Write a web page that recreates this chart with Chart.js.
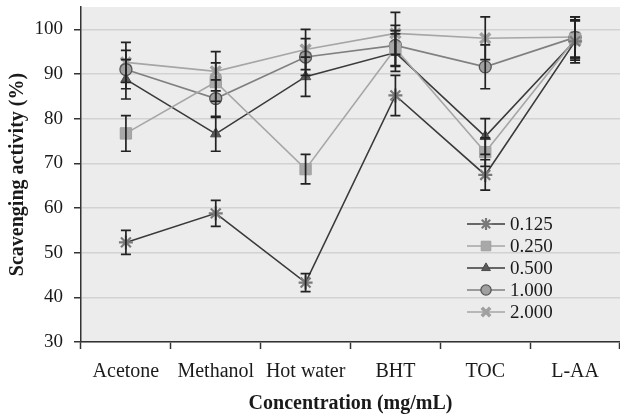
<!DOCTYPE html>
<html>
<head>
<meta charset="utf-8">
<script src="https://cdn.jsdelivr.net/npm/chart.js@4.4.1/dist/chart.umd.min.js"></script>
<style>
  html, body { margin: 0; padding: 0; background: #fff; overflow: hidden; }
  #wrap { width: 620px; height: 419px; position: relative; }
</style>
</head>
<body>
<div id="wrap"><canvas id="chart"></canvas></div>
<script>
// categories and series
const extracts = ["Acetone", "Methanol", "Hot water", "BHT", "TOC", "L-AA"]
const yTicks = [30, 40, 50, 60, 70, 80, 90, 100]

const conc0125 = [52.3, 58.8, 43.3, 85.2, 67.4, 97.3]
const conc0250 = [76.7, 88.2, 68.7, 95.7, 72.5, 97.8]
const conc0500 = [88.8, 76.6, 89.4, 94.8, 76.0, 97.5]
const conc1000 = [91.0, 84.5, 93.8, 96.4, 91.6, 98.2]
const conc2000 = [92.6, 90.6, 95.5, 99.1, 98.0, 98.3]

const err0125 = [2.7, 2.9, 2.0, 4.5, 3.4, 4.8]
const err0250 = [4.0, 4.3, 3.3, 4.0, 3.2, 4.2]
const err0500 = [4.4, 3.9, 4.4, 4.2, 4.0, 4.4]
const err1000 = [4.3, 4.2, 4.1, 4.5, 4.9, 4.6]
const err2000 = [4.5, 4.4, 4.5, 4.7, 4.8, 4.5]

const serif = "'Liberation Serif', 'Times New Roman', serif"

function series(label, data, errs, line, fill, border, style, radius, bw) {
  return {
    label: label,
    data: data,
    errs: errs,
    borderColor: line,
    borderWidth: 1.6,
    pointStyle: style,
    pointRadius: radius,
    pointHoverRadius: radius,
    pointBackgroundColor: fill,
    pointBorderColor: border,
    pointBorderWidth: bw,
    tension: 0,
    fill: false
  }
}

const datasets = [
  series("0.125", conc0125, err0125, "#3a3a3a", "#8a8a8a", "#7a7a7a", "star", 7, 2.2),
  series("0.250", conc0250, err0250, "#a6a6a6", "#a8a8a8", "#a0a0a0", "rect", 8, 1),
  series("0.500", conc0500, err0500, "#3a3a3a", "#5a5a5a", "#4a4a4a", "triangle", 6, 1),
  series("1.000", conc1000, err1000, "#808080", "#a0a0a0", "#555555", "circle", 6, 1.3),
  series("2.000", conc2000, err2000, "#a6a6a6", "#9c9c9c", "#a0a0a0", "crossRot", 7, 3.5)
]

// grey plot background
const plotBg = {
  id: "plotBg",
  beforeDraw(chart) {
    let a = chart.chartArea
    let ctx = chart.ctx
    ctx.save()
    ctx.fillStyle = "#ececec"
    ctx.fillRect(a.left, a.top, a.right - a.left, a.bottom - a.top)
    ctx.restore()
  }
}

// error bars with caps
const errorBars = {
  id: "errorBars",
  afterDatasetsDraw(chart) {
    let ctx = chart.ctx
    let y = chart.scales.y
    ctx.save()
    ctx.strokeStyle = "#222"
    ctx.lineWidth = 1.7
    chart.data.datasets.forEach((ds, i) => {
      let meta = chart.getDatasetMeta(i)
      meta.data.forEach((pt, j) => {
        let v = ds.data[j], e = ds.errs[j]
        let top = y.getPixelForValue(v + e)
        let bot = y.getPixelForValue(v - e)
        ctx.beginPath()
        ctx.moveTo(pt.x, top); ctx.lineTo(pt.x, bot)
        ctx.moveTo(pt.x - 5, top); ctx.lineTo(pt.x + 5, top)
        ctx.moveTo(pt.x - 5, bot); ctx.lineTo(pt.x + 5, bot)
        ctx.stroke()
      })
    })
    ctx.restore()
  }
}

// legend sitting inside the plot, lower right
const innerLegend = {
  id: "innerLegend",
  afterDraw(chart) {
    let ctx = chart.ctx
    let x0 = 467, x1 = 505, tx = 510
    let rows = [224, 246, 268, 290, 312]
    ctx.save()
    chart.data.datasets.forEach((ds, i) => {
      let yy = rows[i]
      ctx.strokeStyle = ds.borderColor
      ctx.lineWidth = 1.6
      ctx.beginPath()
      ctx.moveTo(x0, yy); ctx.lineTo(x1, yy)
      ctx.stroke()
      ctx.fillStyle = ds.pointBackgroundColor
      ctx.strokeStyle = ds.pointBorderColor
      ctx.lineWidth = ds.pointBorderWidth
      Chart.helpers.drawPoint(ctx, {
        pointStyle: ds.pointStyle,
        radius: ds.pointRadius * 0.85,
        borderWidth: ds.pointBorderWidth,
        rotation: 0
      }, (x0 + x1) / 2, yy)
      ctx.fillStyle = "#1a1a1a"
      ctx.font = "19px " + serif
      ctx.textBaseline = "middle"
      ctx.textAlign = "left"
      ctx.fillText(ds.label, tx, yy + 1)
    })
    ctx.restore()
  }
}

let ctx = document.getElementById("chart").getContext("2d")
let myChart = new Chart(ctx, {
  type: "line",
  data: { labels: extracts, datasets: datasets },
  plugins: [plotBg, errorBars, innerLegend],
  options: {
    responsive: true,
    maintainAspectRatio: false,
    animation: false,
    layout: { autoPadding: false, padding: { top: 7, right: 0, left: 0, bottom: 0 } },
    plugins: {
      legend: { display: false },
      tooltip: { enabled: false }
    },
    scales: {
      x: {
        type: "category",
        offset: true,
        afterFit(scale) {
          scale.height = 77
          scale.paddingLeft = 0
          scale.paddingRight = 0
        },
        grid: {
          offset: true,
          drawOnChartArea: false,
          drawTicks: true,
          tickLength: 7,
          tickColor: "#333",
          tickWidth: 1.5
        },
        border: { color: "#333", width: 1.5 },
        ticks: {
          color: "#1a1a1a",
          padding: 11,
          maxRotation: 0,
          autoSkip: false,
          font: { family: serif, size: 20 }
        },
        title: {
          display: true,
          text: "Concentration (mg/mL)",
          color: "#1a1a1a",
          font: { family: serif, size: 20, weight: "bold" },
          padding: { top: 0, bottom: 3 }
        }
      },
      y: {
        min: 30,
        max: 105,
        afterFit(scale) {
          scale.width = 81
          scale.paddingTop = 0
          scale.paddingBottom = 0
        },
        afterBuildTicks(scale) {
          scale.ticks = yTicks.map(v => ({ value: v }))
        },
        grid: {
          color: "#d2d2d2",
          lineWidth: 1.5,
          tickLength: 7,
          tickColor: "#333",
          tickWidth: 1.5
        },
        border: { color: "#333", width: 1.5 },
        ticks: {
          color: "#1a1a1a",
          padding: 11,
          font: { family: serif, size: 19 }
        },
        title: {
          display: true,
          text: "Scavenging activity (%)",
          color: "#1a1a1a",
          font: { family: serif, size: 20, weight: "bold" },
          padding: { top: 6, bottom: 0 }
        }
      }
    }
  }
})
</script>
</body>
</html>
